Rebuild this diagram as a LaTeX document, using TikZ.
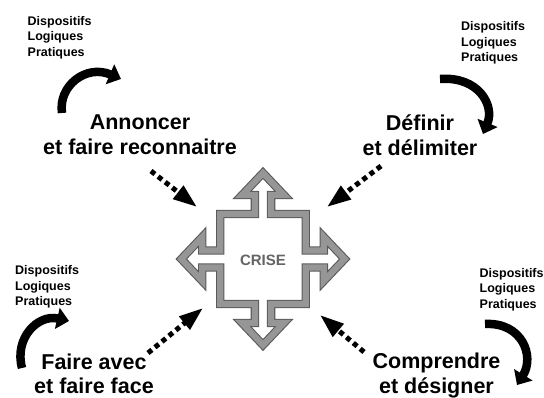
\documentclass[tikz,border=0pt]{standalone}
\usepackage{fontspec}
\setmainfont{Liberation Sans}
\usetikzlibrary{arrows.meta}
\definecolor{band}{RGB}{150,150,150}
\definecolor{bandedge}{RGB}{90,90,90}
\definecolor{crisetext}{RGB}{100,100,100}
\tikzset{
  smalltxt/.style={anchor=north west, inner sep=0pt, align=left, font=\bfseries\fontsize{12.5}{15.5}\selectfont},
  bigtxt/.style={anchor=north, inner sep=0pt, align=center, font=\bfseries\fontsize{21.5}{24.3}\selectfont},
  curvarrow/.style={line width=8.5pt, -{Triangle[length=12pt,width=21pt]}},
  dotarrow/.style={line width=5pt, dash pattern=on 5pt off 4pt, -{Triangle[length=24pt,width=16pt]}},
  crossband/.style={draw=bandedge, line width=1.1pt, double=band, double distance=6.2pt, fill=white, line join=miter}
}
\begin{document}
\begin{tikzpicture}[x=1pt,y=-1pt]
\fill[white] (0,0) rectangle (544,398);
\useasboundingbox (0,0) rectangle (544,398);

% central cross
\begin{scope}[shift={(263,259)}, xscale=0.95]
\draw[crossband] (-8.5,45) -- (-8.5,64) -- (-22,64) -- (0,86) -- (22,64) -- (8.5,64) -- (8.5,45)
  -- (45,45) -- (45,8.5) -- (64,8.5) -- (64,22) -- (86,0) -- (64,-22) -- (64,-8.5) -- (45,-8.5)
  -- (45,-45) -- (8.5,-45) -- (8.5,-64) -- (22,-64) -- (0,-86) -- (-22,-64) -- (-8.5,-64) -- (-8.5,-45)
  -- (-45,-45) -- (-45,-8.5) -- (-64,-8.5) -- (-64,-22) -- (-86,0) -- (-64,22) -- (-64,8.5) -- (-45,8.5)
  -- (-45,45) -- cycle;
\end{scope}
\node[inner sep=0pt, text=crisetext, font=\bfseries\fontsize{15}{16}\selectfont] (crise) at (263,260.5) {CRISE};

% small labels
\node[smalltxt] (dtl) at (27.5,16) {Dispositifs\\Logiques\\Pratiques};
\node[smalltxt] (dtr) at (461,21.5) {Dispositifs\\Logiques\\Pratiques};
\node[smalltxt] (dbl) at (15,265.5) {Dispositifs\\Logiques\\Pratiques};
\node[smalltxt] (dbr) at (479.5,268) {Dispositifs\\Logiques\\Pratiques};

% main labels
\node[bigtxt] (ann) at (140,115) {Annoncer\\et faire reconnaitre};
\node[bigtxt] (def) at (420,115) {Définir\\et délimiter};
\node[bigtxt] (fai) at (94,353.5) {Faire avec\\et faire face};
\node[bigtxt] (com) at (436.5,353) {Comprendre\\et désigner};

% curved arrows
\coordinate (c1a) at (62,113);  \coordinate (c1b) at (121,79);
\coordinate (c2a) at (440,79);  \coordinate (c2b) at (483,134);
\coordinate (c3a) at (22,368);  \coordinate (c3b) at (69,321);
\coordinate (c4a) at (485,324); \coordinate (c4b) at (517,385);
\draw[curvarrow] (c1a) .. controls (58,86) and (86,64) .. (c1b);
\draw[curvarrow] (c2a) .. controls (478,76) and (495,105) .. (c2b);
\draw[curvarrow] (c3a) .. controls (14,338) and (38,314) .. (c3b);
\draw[curvarrow] (c4a) .. controls (522,322) and (535,356) .. (c4b);

% dotted arrows
\coordinate (d1a) at (151,171); \coordinate (d1b) at (197,207);
\coordinate (d2a) at (381,166); \coordinate (d2b) at (327,207);
\coordinate (d3a) at (148,353); \coordinate (d3b) at (203,308);
\coordinate (d4a) at (364,352); \coordinate (d4b) at (320,315);
\draw[dotarrow] (d1a) -- (d1b);
\draw[dotarrow] (d2a) -- (d2b);
\draw[dotarrow] (d3a) -- (d3b);
\draw[dotarrow] (d4a) -- (d4b);
\end{tikzpicture}
\end{document}
